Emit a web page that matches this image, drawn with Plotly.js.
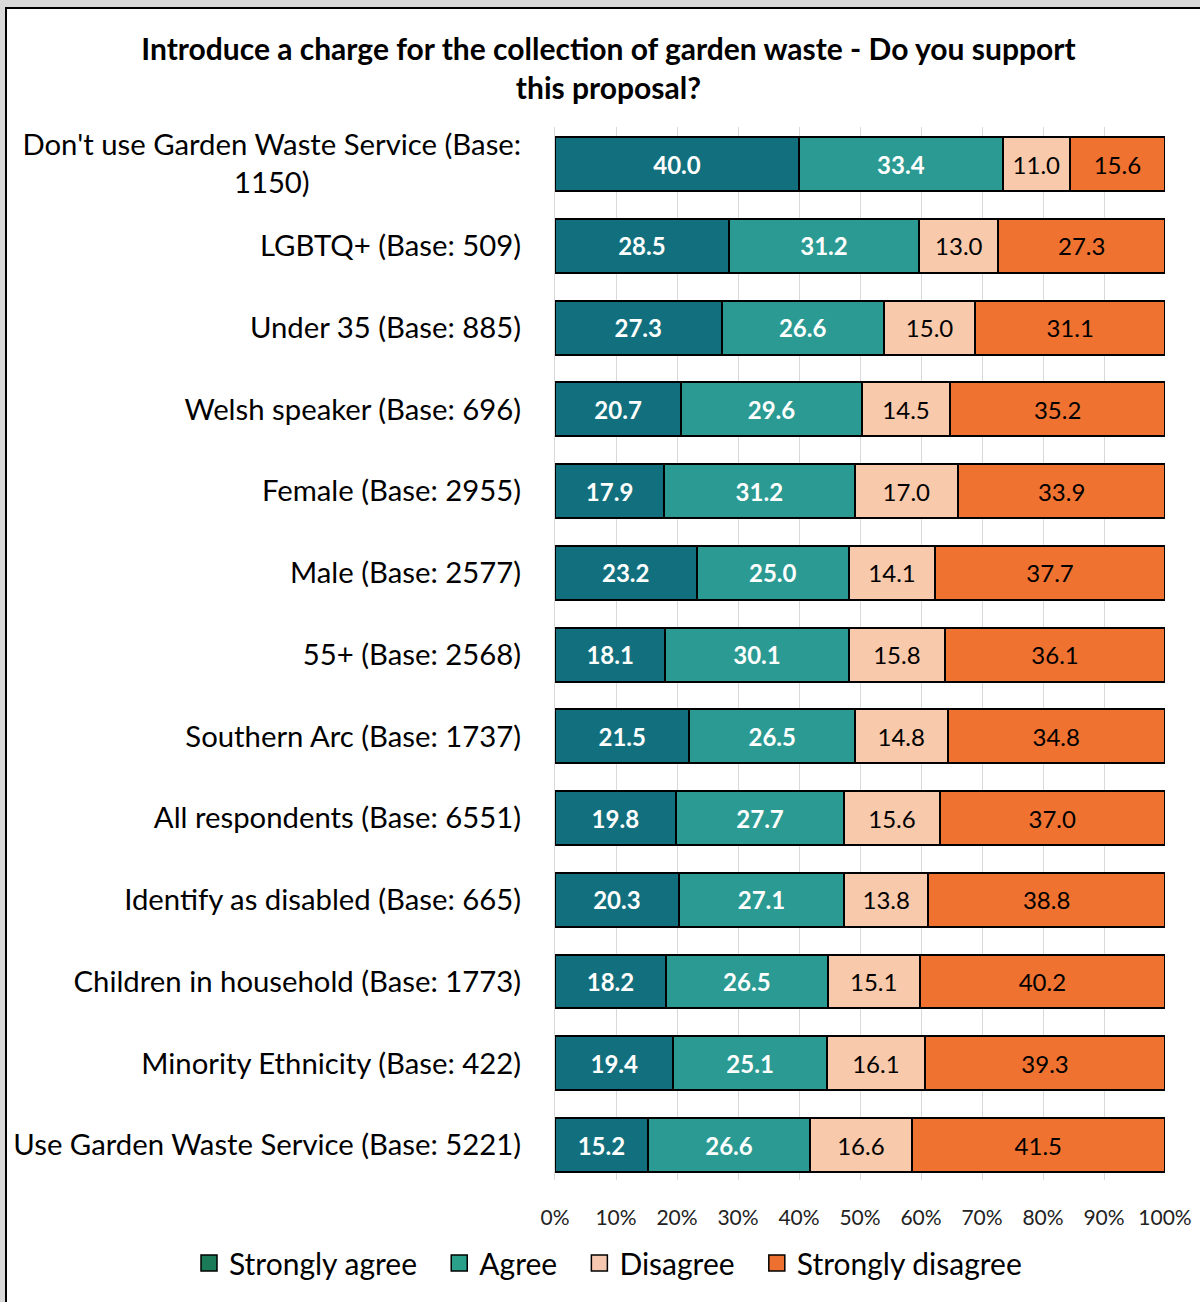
<!DOCTYPE html>
<html>
<head>
<meta charset="utf-8">
<script src="https://cdn.plot.ly/plotly-3.0.1.min.js"></script>
<style>
  html, body { margin: 0; padding: 0; background: #ffffff; }
  #wrap { position: relative; width: 1200px; height: 1302px; background: #d9d9d9; overflow: hidden; }
  #frame { position: absolute; left: 5px; top: 7px; width: 1300px; height: 1400px; background: #fff; border-left: 2px solid #000; border-top: 2px solid #000; }
  #chart { position: absolute; left: 0; top: 0; width: 1200px; height: 1302px; }
</style>
</head>
<body>
<div id="wrap">
  <div id="frame"></div>
  <div id="chart"></div>
</div>
<script>
// Categories listed bottom to top
const categories = [
  "Use Garden Waste Service (Base: 5221)",
  "Minority Ethnicity (Base: 422)",
  "Children in household (Base: 1773)",
  "Identify as disabled (Base: 665)",
  "All respondents (Base: 6551)",
  "Southern Arc (Base: 1737)",
  "55+ (Base: 2568)",
  "Male (Base: 2577)",
  "Female (Base: 2955)",
  "Welsh speaker (Base: 696)",
  "Under 35 (Base: 885)",
  "LGBTQ+ (Base: 509)",
  "Don't use Garden Waste Service (Base:<br>1150)"
];
const stronglyAgree    = [15.2, 19.4, 18.2, 20.3, 19.8, 21.5, 18.1, 23.2, 17.9, 20.7, 27.3, 28.5, 40.0];
const agree            = [26.6, 25.1, 26.5, 27.1, 27.7, 26.5, 30.1, 25.0, 31.2, 29.6, 26.6, 31.2, 33.4];
const disagree         = [16.6, 16.1, 15.1, 13.8, 15.6, 14.8, 15.8, 14.1, 17.0, 14.5, 15.0, 13.0, 11.0];
const stronglyDisagree = [41.5, 39.3, 40.2, 38.8, 37.0, 34.8, 36.1, 37.7, 33.9, 35.2, 31.1, 27.3, 15.6];
const seriesNames = ["Strongly agree", "Agree", "Disagree", "Strongly disagree"];
const xTickVals = [0, 10, 20, 30, 40, 50, 60, 70, 80, 90, 100];
const xTickText = ["0%", "10%", "20%", "30%", "40%", "50%", "60%", "70%", "80%", "90%", "100%"];

const FONT = "Lato, 'Open Sans', sans-serif";
const barColors = ["#12707e", "#2a9a93", "#f8c9aa", "#ef7230"];
const legendColors = ["#1b7a58", "#2aa08a", "#f6c8b0", "#ee7030"];
const textColors = ["#ffffff", "#ffffff", "#000000", "#000000"];
const textWeights = ["bold", "bold", "normal", "normal"];
const data = [stronglyAgree, agree, disagree, stronglyDisagree];

const traces = data.map((vals, i) => ({
  type: "bar",
  orientation: "h",
  name: seriesNames[i],
  y: categories,
  x: vals,
  text: vals.map(v => v.toFixed(1)),
  texttemplate: "%{text}",
  marker: { color: barColors[i], line: { color: "#000", width: 2 } },
  textposition: "inside",
  insidetextanchor: "middle",
  textangle: 0,
  constraintext: "none",
  textfont: { family: FONT, size: 24, color: textColors[i], weight: textWeights[i] },
  hoverinfo: "skip",
  showlegend: false
}));
// legend-only proxies (square markers) for the legend colours
const pad = "\u00A0\u00A0\u200A";
seriesNames.forEach((n, i) => {
  traces.push({
    type: "scatter", mode: "markers", name: i < 3 ? n + pad : n, x: [null], y: [null],
    marker: { symbol: "square", size: 16, color: legendColors[i], line: { color: "#000", width: 1.5 } },
    showlegend: true, hoverinfo: "skip"
  });
});

const layout = {
  width: 1200,
  height: 1302,
  paper_bgcolor: "rgba(0,0,0,0)",
  plot_bgcolor: "rgba(0,0,0,0)",
  barmode: "stack",
  barnorm: "percent",
  bargap: 0.34,
  margin: { l: 555, r: 35, t: 127, b: 122, pad: 0 },
  font: { family: FONT, color: "#000" },
  title: {
    text: "<b>Introduce a charge for the collection of garden waste - Do you support<br>this proposal?</b>",
    font: { family: FONT, size: 30, color: "#000" },
    x: 0.507, xanchor: "center", xref: "container",
    y: 0.954, yanchor: "middle", yref: "container"
  },
  xaxis: {
    range: [0, 100],
    tickvals: xTickVals,
    ticktext: xTickText,
    showgrid: true,
    gridcolor: "#d9d9d9",
    gridwidth: 1,
    zeroline: false,
    showline: false,
    ticks: "",
    ticklabelstandoff: 23,
    tickfont: { family: FONT, size: 21, color: "#222" },
    fixedrange: true
  },
  yaxis: {
    type: "category",
    range: [-0.428, 12.453],
    showgrid: false,
    zeroline: false,
    showline: true,
    linecolor: "#d9d9d9",
    ticks: "",
    ticklabelstandoff: 27,
    tickfont: { family: FONT, size: 29.3, color: "#000" },
    fixedrange: true
  },
  legend: {
    orientation: "h",
    x: -0.60, xanchor: "left", xref: "paper",
    y: -0.0788, yanchor: "middle", yref: "paper",
    font: { family: FONT, size: 30, color: "#000" },
    itemwidth: 30,
    itemsizing: "trace",
    traceorder: "normal",
    bgcolor: "rgba(0,0,0,0)"
  },
  showlegend: true
};

Plotly.newPlot("chart", traces, layout, { displayModeBar: false, staticPlot: true }).then(gd => {
  // centre the wrapped category label lines like the original
  gd.querySelectorAll(".ytick text").forEach(t => {
    if (t.textContent.indexOf("1150") >= 0) {
      const w = t.getBBox().width;
      const x = parseFloat(t.getAttribute("x"));
      const nx = x - w / 2;
      t.setAttribute("text-anchor", "middle");
      t.setAttribute("x", nx);
      t.querySelectorAll("tspan").forEach(s => { if (s.getAttribute("x") !== null) s.setAttribute("x", nx); });
    }
  });
});
</script>
</body>
</html>
